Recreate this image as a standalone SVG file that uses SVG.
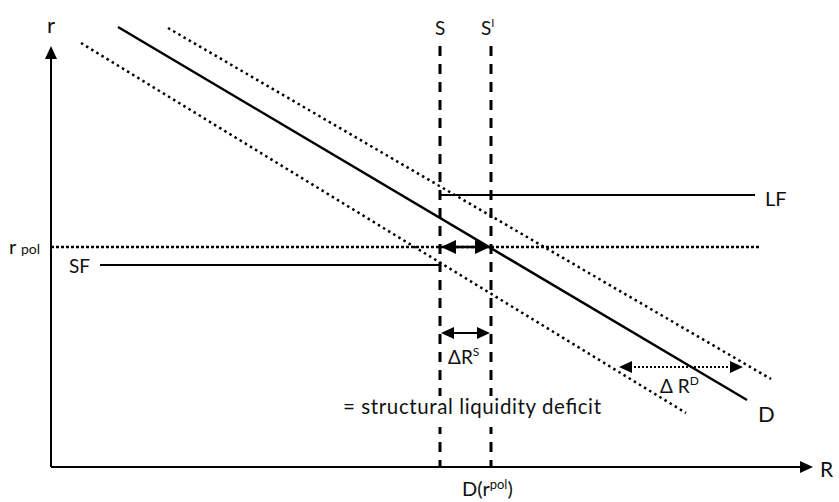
<svg xmlns="http://www.w3.org/2000/svg" width="839" height="502" viewBox="0 0 839 502">
<style>
text{font-family:Lato,"Open Sans","Liberation Sans",sans-serif;fill:#111}
.ax{stroke:#000;stroke-width:2;fill:none}
.sol{stroke:#000;stroke-width:2.5;fill:none}
.dot{stroke:#000;stroke-width:2.5;stroke-dasharray:2.5 3.5;fill:none}
.dash{stroke:#000;stroke-width:3;stroke-dasharray:10 8;fill:none}
.hd{fill:#000}
</style>
<rect width="839" height="502" fill="#fff"/>
<g id="connectors">
<line class="ax" x1="51" y1="55" x2="51" y2="467"/>
<polygon class="hd" points="51,46 45,59 57,59"/>
<line class="ax" x1="51" y1="467" x2="802" y2="467"/>
<polygon class="hd" points="813,467 800,461 800,473"/>
<line class="sol" x1="118" y1="27" x2="747" y2="400"/>
<line class="dot" x1="81" y1="43" x2="686" y2="413"/>
<line class="dot" x1="168" y1="28" x2="771" y2="379"/>
<line class="dot" x1="51" y1="247" x2="760" y2="247" style="stroke-dasharray:3 2"/>
<line class="dash" x1="440" y1="46" x2="440" y2="467"/>
<line class="dash" x1="491" y1="46" x2="491" y2="467"/>
<line class="sol" x1="100" y1="265" x2="440" y2="265" style="stroke-width:2"/>
<line class="sol" x1="440" y1="195" x2="755" y2="195" style="stroke-width:2"/>
<line class="sol" x1="452" y1="247" x2="478" y2="247"/>
<polygon class="hd" points="441,247 456,240 456,254"/>
<polygon class="hd" points="490,247 475,240 475,254"/>
<line class="sol" x1="450" y1="333" x2="480" y2="333" style="stroke-width:2"/>
<polygon class="hd" points="441,333 454,327 454,339"/>
<polygon class="hd" points="490,333 477,327 477,339"/>
<line class="dot" x1="630" y1="367" x2="732" y2="367" style="stroke-width:1.8;stroke-dasharray:2 2"/>
<polygon class="hd" points="619,367 632,361 632,373"/>
<polygon class="hd" points="743,367 730,361 730,373"/>
</g>
<g id="labels">
<text x="47" y="33" font-size="22">r</text>
<text x="9" y="254" font-size="20">r <tspan font-size="14">pol</tspan></text>
<text x="69" y="273" font-size="19">SF</text>
<text x="435" y="35" font-size="19">S</text>
<text x="481" y="35" font-size="19">S<tspan font-size="11" dy="-8">I</tspan></text>
<text x="765" y="206" font-size="20">LF</text>
<text x="448" y="364" font-size="19">ΔR<tspan font-size="12" dy="-8">S</tspan></text>
<text x="660" y="393" font-size="19">Δ R<tspan font-size="12" dy="-8">D</tspan></text>
<rect x="338" y="396" width="268" height="31" fill="#fff"/>
<text x="343" y="414" font-size="20.5" textLength="258">= structural liquidity deficit</text>
<text x="758" y="422" font-size="22">D</text>
<text x="820" y="477" font-size="21">R</text>
<text x="462" y="496" font-size="20">D(r<tspan font-size="13" dy="-7">pol</tspan><tspan dy="7">)</tspan></text>
</g>
</svg>
